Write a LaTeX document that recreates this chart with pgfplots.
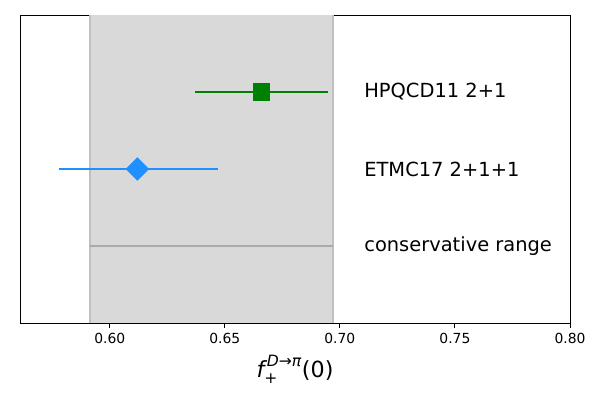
\documentclass[border=0pt]{standalone}
\usepackage{amsmath}
\usepackage{pgfplots}
\pgfplotsset{compat=1.18}
\usepackage{fontspec}
\setmainfont{DejaVu Sans}

\definecolor{bandgray}{HTML}{D9D9D9}
\definecolor{bandedge}{HTML}{C0C0C0}
\definecolor{rangegray}{HTML}{AAAAAA}
\definecolor{mplgreen}{HTML}{008000}
\definecolor{dodger}{HTML}{1E90FF}

\begin{document}
\begin{tikzpicture}
\begin{axis}[
    scale only axis,
    width=396pt, height=221.76pt,
    xmin=0.561, xmax=0.80,
    ymin=0, ymax=4,
    ytick=\empty,
    xtick={0.60,0.65,...,0.80},
    xticklabel style={font=\fontsize{10}{12}\selectfont},
    /pgf/number format/.cd, fixed, fixed zerofill, precision=2, assume math mode=true,
    /pgfplots/.cd,
    xtick pos=lower,
    tick align=outside,
    major tick length=3.5pt,
    tick style={black, line width=0.7pt},
    axis line style={line width=0.7pt},
    xlabel={\fontsize{16}{19}\selectfont $\text{\itshape f}^{\,\text{\itshape D}\text{→}\text{\itshape π}}_{\text{+}}$(0)},
    xlabel style={yshift=-2pt},
    clip=false,
]
% conservative band
\addplot[fill=bandgray, draw=none] coordinates {(0.5915,0) (0.697,0) (0.697,4) (0.5915,4)} -- cycle;
\addplot[bandedge, line width=1pt] coordinates {(0.5915,0) (0.5915,4)};
\addplot[bandedge, line width=1pt] coordinates {(0.697,0) (0.697,4)};
% conservative range line
\addplot[rangegray, line width=1.5pt] coordinates {(0.5915,1) (0.697,1)};
% HPQCD11 2+1
\addplot[mplgreen, line width=1.5pt, mark=square*, mark size=5.6pt,
    mark options={solid, fill=mplgreen},
    error bars/.cd, x dir=both, x explicit, error bar style={line width=1.5pt}, error mark=none]
    coordinates {(0.666,3) +- (0.029,0)};
% ETMC17 2+1+1
\addplot[dodger, line width=1.5pt, mark=diamond*, mark size=7.4pt,
    mark options={solid, fill=dodger, xscale=1.333},
    error bars/.cd, x dir=both, x explicit, error bar style={line width=1.5pt}, error mark=none]
    coordinates {(0.612,2) += (0.035,0) -= (0.034,0)};
\node[anchor=west, inner sep=0pt, font=\fontsize{14}{17}\selectfont] at (axis cs:0.7105,3) {HPQCD11 2+1};
\node[anchor=west, inner sep=0pt, font=\fontsize{14}{17}\selectfont] at (axis cs:0.7105,2) {ETMC17 2+1+1};
\node[anchor=west, inner sep=0pt, font=\fontsize{14}{17}\selectfont] at (axis cs:0.7105,1) {conservative range};
\end{axis}
\pgfresetboundingbox
\useasboundingbox (-14.4pt,-55.44pt) rectangle (417.6pt,232.56pt);
\end{tikzpicture}
\end{document}
